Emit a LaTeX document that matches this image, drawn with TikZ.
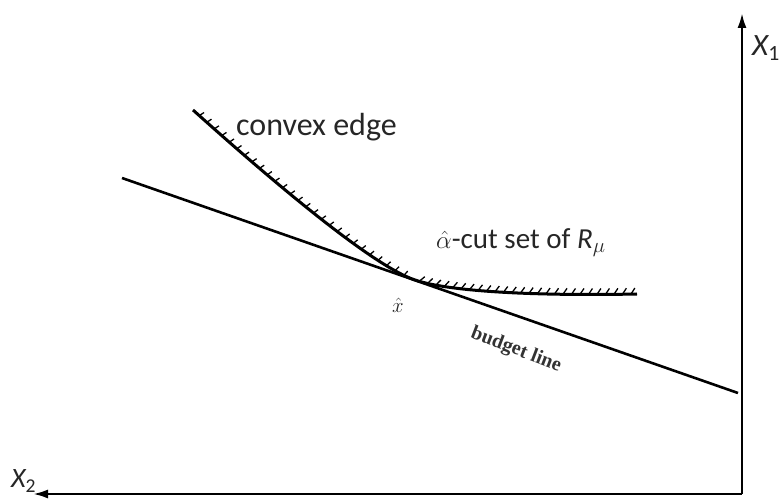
\documentclass[tikz,border=0pt]{standalone}
\usepackage{fontspec}
\setmainfont{Carlito}
\newfontfamily\tnr{Liberation Serif}
\usetikzlibrary{arrows.meta,decorations.markings}
\tikzset{
  axisline/.style={line width=2.4pt,-{Latex[length=15pt,width=9pt]}},
  budget/.style={line width=2.6pt},
  edgecurve/.style={line width=3pt},
  hatchA/.style={postaction={decorate},decoration={markings,
     mark=between positions 0.03 and 0.99 step 10pt with {\draw[line width=1.3pt] (0pt,0pt) -- (1.5pt,5.5pt);}}},
  hatchB/.style={postaction={decorate},decoration={markings,
     mark=between positions 0.02 and 0.99 step 8.5pt with {\draw[line width=1.3pt] (0pt,0pt) -- (4pt,6pt);}}},
  lbl/.style={inner sep=0pt,text=black!85},
}
\begin{document}
\begin{tikzpicture}[x=1pt,y=-1pt]
\useasboundingbox (0,0) rectangle (779,502);
% axes
\coordinate (O) at (742,494);
\coordinate (top) at (742,13);
\coordinate (left) at (33,494);
\draw[axisline] (O) -- (top);
\draw[axisline] (O) -- (left);
\node[lbl,anchor=west,font=\fontsize{31}{31}\selectfont] (X1) at (752,48) {\itshape X\textsubscript{\upshape 1}};
\node[lbl,anchor=west,font=\fontsize{28}{28}\selectfont] (X2) at (11,481) {\itshape X\textsubscript{\upshape 2}};
% budget line
\coordinate (b1) at (122,178);
\coordinate (b2) at (738,393);
\draw[budget] (b1) -- (b2);
% curve
\coordinate (c0) at (193,110);
\coordinate (T) at (415,280);
\coordinate (c2) at (637,294);
\draw[edgecurve,hatchA] (c0) .. controls (262,172) and (370,265) .. (T);
\draw[edgecurve,hatchB] (T) .. controls (450,292) and (540,296) .. (c2);
% labels
\node[lbl,anchor=west,font=\fontsize{32}{32}\selectfont] (ce) at (236,127) {convex edge};
\node[lbl,anchor=base west,font=\fontsize{29}{29}\selectfont] (ac) at (436,249) {$\hat{\alpha}$-cut set of \textit{R}$_{\mu}$};
\node[lbl,font=\fontsize{21}{21}\selectfont] (xh) at (398,305) {$\hat{x}$};
\node[lbl,rotate=-21,font=\tnr\bfseries\fontsize{20}{20}\selectfont,text=black!80] (bl) at (516,350) {budget line};
\end{tikzpicture}
\end{document}
